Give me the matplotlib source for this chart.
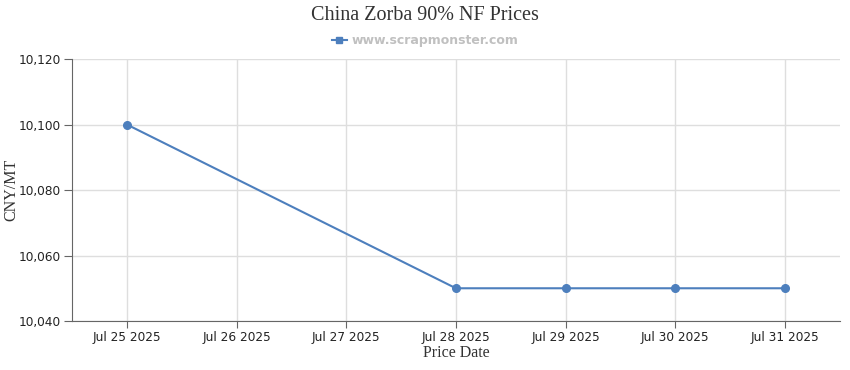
import datetime as dt
import matplotlib
matplotlib.use("Agg")
import matplotlib.pyplot as plt
import matplotlib.dates as mdates

# data
dates = [dt.date(2025, 7, 25), dt.date(2025, 7, 28), dt.date(2025, 7, 29),
         dt.date(2025, 7, 30), dt.date(2025, 7, 31)]
prices = [10100, 10050, 10050, 10050, 10050]
yticks = [10040, 10060, 10080, 10100, 10120]

line_color = "#4d7fbd"
grid_color = "#dedede"
axis_color = "#666666"

fig = plt.figure(figsize=(8.5, 3.7), dpi=100)
ax = fig.add_axes([0.0847, 0.1324, 0.9033, 0.7081])

ax.plot(dates, prices, color=line_color, linewidth=1.5, marker="o",
        markersize=5.5, label="www.scrapmonster.com", zorder=3)

# axes limits
ax.set_xlim(mdates.date2num(dt.date(2025, 7, 25)) - 0.5,
            mdates.date2num(dt.date(2025, 7, 31)) + 0.5)
ax.set_ylim(10040, 10120)
ax.set_yticks(yticks)
ax.set_yticklabels([f"{v:,}" for v in yticks])
ax.xaxis.set_major_locator(mdates.DayLocator())
ax.xaxis.set_major_formatter(mdates.DateFormatter("%b %d %Y"))

ax.grid(True, color=grid_color, linewidth=1)
ax.set_axisbelow(True)
for s in ["top", "right"]:
    ax.spines[s].set_visible(False)
for s in ["left", "bottom"]:
    ax.spines[s].set_color(axis_color)
ax.tick_params(axis="both", colors=axis_color, labelcolor="#222222",
               labelsize=8.7, length=6)
ax.tick_params(axis="x", pad=2, length=5)
ax.tick_params(axis="y", pad=2)

ax.set_xlabel("Price Date", fontfamily="Liberation Serif", fontsize=11.5,
              color="#333333", labelpad=1)
ax.set_ylabel("CNY/MT", fontfamily="Liberation Serif", fontsize=11.5,
              color="#333333")
ax.yaxis.set_label_coords(-0.069, 0.5)

fig.suptitle("China Zorba 90% NF Prices", fontfamily="Liberation Serif",
             fontsize=14.5, color="#333333", y=0.985)

leg = fig.legend(loc="center", bbox_to_anchor=(0.5, 0.89), frameon=False,
                 handlelength=1.2, handletextpad=0.4, fontsize=9)
for t in leg.get_texts():
    t.set_color("#c0c0c0")
    t.set_fontweight("bold")
h = leg.legend_handles[0]
h.set_marker("s")
h.set_markersize(4.5)

fig.savefig("out.png", dpi=100)
